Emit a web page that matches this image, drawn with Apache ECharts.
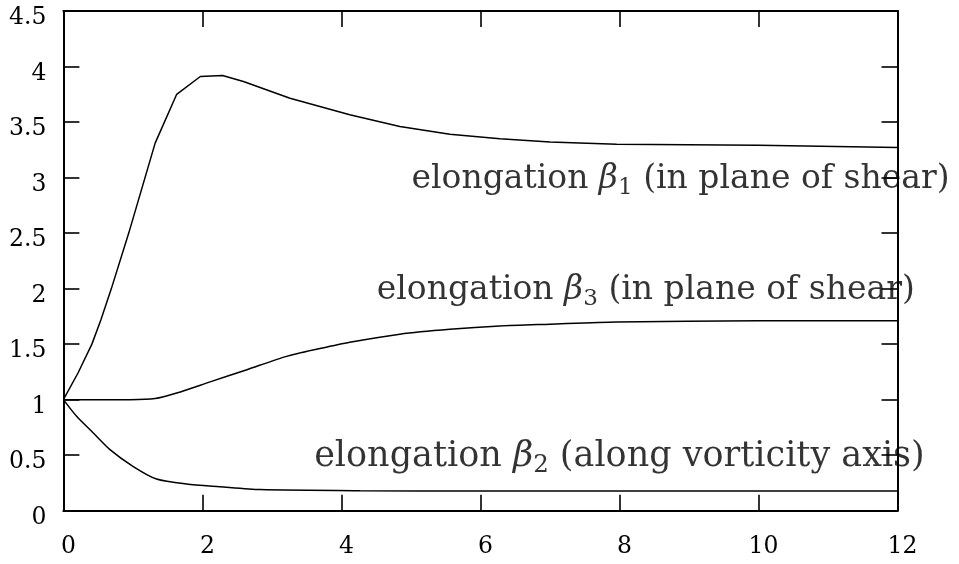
<!DOCTYPE html>
<html>
<head>
<meta charset="utf-8">
<script src="https://cdn.jsdelivr.net/npm/echarts@6/dist/echarts.min.js"></script>
<style>html,body{margin:0;padding:0;background:#fff;}#c{width:959px;height:564px;}</style>
</head>
<body>
<div id="c"></div>
<script>
// beta1 (elongation in plane of shear, upper)
const t1 = [0, 0.21, 0.41, 0.54, 0.69, 0.94, 1.32, 1.63, 1.97, 2.29, 2.59, 3.26, 3.69, 4.12, 4.84, 5.56, 6.28, 7.0, 7.96, 10, 12];
const beta1 = [1, 1.24, 1.5, 1.72, 2.0, 2.5, 3.31, 3.75, 3.91, 3.92, 3.865, 3.715, 3.64, 3.565, 3.46, 3.39, 3.35, 3.32, 3.30, 3.29, 3.27];
// beta3 (elongation in plane of shear, middle)
const t3 = [0, 0.96, 1.32, 1.63, 2.11, 2.64, 3.21, 3.69, 4.12, 4.84, 5.56, 6.28, 7.0, 7.96, 10, 12];
const beta3 = [1, 1.0, 1.01, 1.06, 1.16, 1.27, 1.39, 1.46, 1.517, 1.59, 1.634, 1.664, 1.68, 1.70, 1.71, 1.71];
// beta2 (along vorticity axis)
const t2 = [0, 0.19, 0.43, 0.67, 1.0, 1.34, 1.77, 2.25, 2.83, 4.27, 6, 8, 10, 12];
const beta2 = [1, 0.85, 0.70, 0.55, 0.40, 0.285, 0.24, 0.216, 0.19, 0.18, 0.178, 0.177, 0.177, 0.177];

// curve labels
const labelX = [5, 4.5, 3.6];
const labelY = [3, 2, 0.5];
const labelPre = ['elongation ', 'elongation ', 'elongation '];
const labelSub = ['1', '3', '2'];
const labelPost = [' (in plane of shear)', ' (in plane of shear)', ' (along vorticity axis)'];

// axis ticks
const xMin = 0, xMax = 12, xStep = 2;
const yMin = 0, yMax = 4.5, yStep = 0.5;

const FONT = 'DejaVu Serif';
const labelSize = [33, 33, 35];
function pairs(xs, ys) { return xs.map((x, i) => [x, ys[i]]); }

const axisCommon = {
  axisLine: { show: true, onZero: false, lineStyle: { color: '#000', width: 2 } },
  axisTick: { show: true, inside: true, length: 16, lineStyle: { color: '#000', width: 1.6 } },
  splitLine: { show: false }
};

const lineStyle = { color: '#000', width: 1.5 };

function richFor(sz) {
  return {
    m: { fontFamily: FONT, fontSize: sz, lineHeight: sz * 1.2, color: '#000' },
    b: { fontFamily: FONT, fontSize: sz, lineHeight: sz * 1.2, color: '#000', fontStyle: 'italic' },
    s: { fontFamily: FONT, fontSize: sz * 0.7, lineHeight: sz * 0.7, verticalAlign: 'bottom', color: '#000' }
  };
}

const chart = echarts.init(document.getElementById('c'), null, { renderer: 'canvas' });
chart.setOption({
  animation: false,
  backgroundColor: '#fff',
  grid: { left: 63.4, right: 61.5, top: 11, bottom: 53.3, containLabel: false },
  xAxis: [
    Object.assign({ type: 'value', min: xMin, max: xMax, interval: xStep, position: 'bottom',
      axisLabel: { fontFamily: FONT, fontSize: 23.5, color: '#000', margin: 24, padding: [0, 0, 0, 10] } }, axisCommon),
    Object.assign({ type: 'value', min: xMin, max: xMax, interval: xStep, position: 'top',
      axisLabel: { show: false } }, axisCommon)
  ],
  yAxis: [
    Object.assign({ type: 'value', min: yMin, max: yMax, interval: yStep, position: 'left',
      axisLabel: { fontFamily: FONT, fontSize: 23.5, color: '#000', margin: 17, verticalAlign: 'top', lineHeight: 14 } }, axisCommon),
    Object.assign({ type: 'value', min: yMin, max: yMax, interval: yStep, position: 'right',
      axisLabel: { show: false } }, axisCommon)
  ],
  series: [
    { type: 'line', data: pairs(t1, beta1), showSymbol: false, symbol: 'none', lineStyle: lineStyle, silent: true },
    { type: 'line', data: pairs(t3, beta3), showSymbol: false, symbol: 'none', lineStyle: lineStyle, silent: true, smooth: 0.25 },
    { type: 'line', data: pairs(t2, beta2), showSymbol: false, symbol: 'none', lineStyle: lineStyle, silent: true, smooth: 0.25 },
    {
      type: 'scatter', silent: true, symbolSize: 1, itemStyle: { color: 'rgba(0,0,0,0)' }, clip: false,
      data: labelX.map((x, i) => ({
        value: [x, labelY[i]],
        label: { rich: richFor(labelSize[i]) }
      })),
      label: {
        show: true, position: 'right', distance: 0, offset: [0, 2],
        formatter: p => '{m|' + labelPre[p.dataIndex] + '}{b|β}{s|' + labelSub[p.dataIndex] + '}{m|' + labelPost[p.dataIndex] + '}',
        rich: richFor(33)
      }
    }
  ]
});
</script>
</body>
</html>
